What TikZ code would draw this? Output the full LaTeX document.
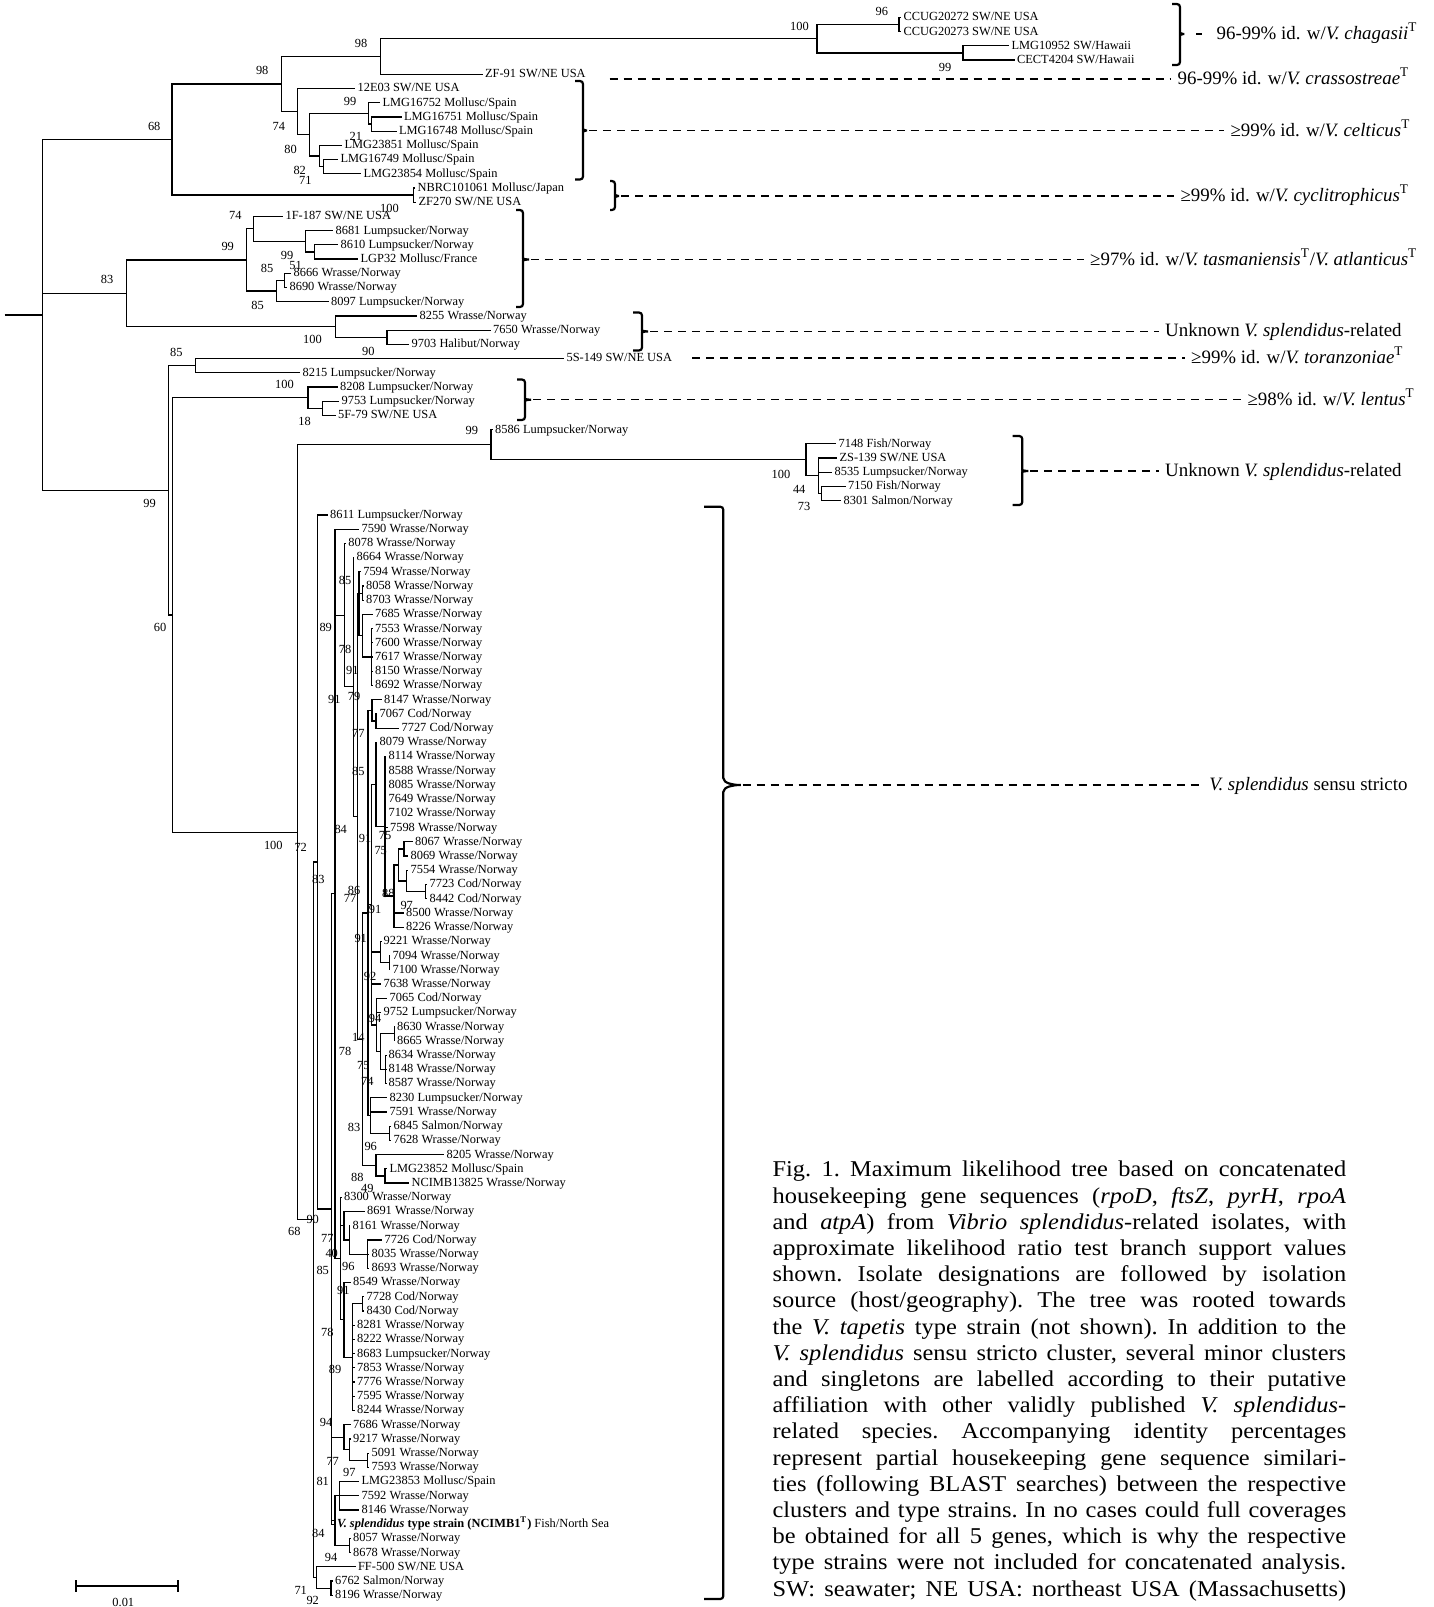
\documentclass[tikz,border=0pt]{standalone}
\usepackage{fontspec}
\setmainfont{Liberation Serif}
\newfontfamily\capfont[FakeStretch=1.08]{Liberation Serif}
\usetikzlibrary{calc}
\newcommand{\inode}[4]{\path let \p1=(#3), \p2=(#4) in coordinate (#1) at ({#2*0.5pt},{0.5*\y1+0.5*\y2});}

\begin{document}
\begin{tikzpicture}[x=0.5pt, y=-0.5pt, line width=0.6pt,
    declare function={ly(\i)=17.4+14.215*\i;},
    leaf/.style={anchor=west, inner xsep=1pt, inner ysep=0pt, text height=4.6pt, text depth=1.2pt, font=\fontsize{6.2}{7}\selectfont},
    supp/.style={inner sep=0pt, font=\fontsize{6.2}{7}\selectfont},
    clade/.style={line width=1.1pt, rounded corners=1.5pt},
    guide/.style={line width=0.6pt, dash pattern=on 4pt off 3pt},
    note/.style={anchor=west, inner xsep=3pt, inner ysep=0pt, text height=7pt, text depth=1.5pt, font=\fontsize{9.45}{11}\selectfont},
    capline/.style={anchor=base west, inner sep=0pt, font=\capfont\fontsize{11.3}{13.1}\selectfont\frenchspacing}]
  \useasboundingbox (0,0) rectangle (1434,1607);

  % isolates
  \path
    (901,{ly(0)}) node[leaf] (l0) {CCUG20272 SW/NE USA}
    (901,{ly(1)}) node[leaf] (l1) {CCUG20273 SW/NE USA}
    (1009,{ly(2)}) node[leaf] (l2) {LMG10952 SW/Hawaii}
    (1014.5,{ly(3)}) node[leaf] (l3) {CECT4204 SW/Hawaii}
    (482.5,{ly(4)}) node[leaf] (l4) {ZF-91 SW/NE USA}
    (355,{ly(5)}) node[leaf] (l5) {12E03 SW/NE USA}
    (380,{ly(6)}) node[leaf] (l6) {LMG16752 Mollusc/Spain}
    (401.5,{ly(7)}) node[leaf] (l7) {LMG16751 Mollusc/Spain}
    (396.5,{ly(8)}) node[leaf] (l8) {LMG16748 Mollusc/Spain}
    (342,{ly(9)}) node[leaf] (l9) {LMG23851 Mollusc/Spain}
    (338,{ly(10)}) node[leaf] (l10) {LMG16749 Mollusc/Spain}
    (361,{ly(11)}) node[leaf] (l11) {LMG23854 Mollusc/Spain}
    (415,{ly(12)}) node[leaf] (l12) {NBRC101061 Mollusc/Japan}
    (416,{ly(13)}) node[leaf] (l13) {ZF270 SW/NE USA}
    (283,{ly(14)}) node[leaf] (l14) {1F-187 SW/NE USA}
    (333,{ly(15)}) node[leaf] (l15) {8681 Lumpsucker/Norway}
    (338,{ly(16)}) node[leaf] (l16) {8610 Lumpsucker/Norway}
    (358,{ly(17)}) node[leaf] (l17) {LGP32 Mollusc/France}
    (291,{ly(18)}) node[leaf] (l18) {8666 Wrasse/Norway}
    (287,{ly(19)}) node[leaf] (l19) {8690 Wrasse/Norway}
    (328.5,{ly(20)}) node[leaf] (l20) {8097 Lumpsucker/Norway}
    (417,{ly(21)}) node[leaf] (l21) {8255 Wrasse/Norway}
    (490.5,{ly(22)}) node[leaf] (l22) {7650 Wrasse/Norway}
    (409,{ly(23)}) node[leaf] (l23) {9703 Halibut/Norway}
    (564,{ly(24)}) node[leaf] (l24) {5S-149 SW/NE USA}
    (300,{ly(25)}) node[leaf] (l25) {8215 Lumpsucker/Norway}
    (337.5,{ly(26)}) node[leaf] (l26) {8208 Lumpsucker/Norway}
    (339,{ly(27)}) node[leaf] (l27) {9753 Lumpsucker/Norway}
    (335.5,{ly(28)}) node[leaf] (l28) {5F-79 SW/NE USA}
    (492.5,{ly(29)}) node[leaf] (l29) {8586 Lumpsucker/Norway}
    (836,{ly(30)}) node[leaf] (l30) {7148 Fish/Norway}
    (837,{ly(31)}) node[leaf] (l31) {ZS-139 SW/NE USA}
    (832,{ly(32)}) node[leaf] (l32) {8535 Lumpsucker/Norway}
    (845.5,{ly(33)}) node[leaf] (l33) {7150 Fish/Norway}
    (841,{ly(34)}) node[leaf] (l34) {8301 Salmon/Norway}
    (327.5,{ly(35)}) node[leaf] (l35) {8611 Lumpsucker/Norway}
    (359,{ly(36)}) node[leaf] (l36) {7590 Wrasse/Norway}
    (345.8,{ly(37)}) node[leaf] (l37) {8078 Wrasse/Norway}
    (354,{ly(38)}) node[leaf] (l38) {8664 Wrasse/Norway}
    (360.7,{ly(39)}) node[leaf] (l39) {7594 Wrasse/Norway}
    (363.5,{ly(40)}) node[leaf] (l40) {8058 Wrasse/Norway}
    (363.5,{ly(41)}) node[leaf] (l41) {8703 Wrasse/Norway}
    (372.5,{ly(42)}) node[leaf] (l42) {7685 Wrasse/Norway}
    (372.5,{ly(43)}) node[leaf] (l43) {7553 Wrasse/Norway}
    (372.5,{ly(44)}) node[leaf] (l44) {7600 Wrasse/Norway}
    (372.5,{ly(45)}) node[leaf] (l45) {7617 Wrasse/Norway}
    (372.5,{ly(46)}) node[leaf] (l46) {8150 Wrasse/Norway}
    (372.5,{ly(47)}) node[leaf] (l47) {8692 Wrasse/Norway}
    (381.5,{ly(48)}) node[leaf] (l48) {8147 Wrasse/Norway}
    (377,{ly(49)}) node[leaf] (l49) {7067 Cod/Norway}
    (399,{ly(50)}) node[leaf] (l50) {7727 Cod/Norway}
    (377,{ly(51)}) node[leaf] (l51) {8079 Wrasse/Norway}
    (386,{ly(52)}) node[leaf] (l52) {8114 Wrasse/Norway}
    (386,{ly(53)}) node[leaf] (l53) {8588 Wrasse/Norway}
    (386,{ly(54)}) node[leaf] (l54) {8085 Wrasse/Norway}
    (386,{ly(55)}) node[leaf] (l55) {7649 Wrasse/Norway}
    (386,{ly(56)}) node[leaf] (l56) {7102 Wrasse/Norway}
    (387.5,{ly(57)}) node[leaf] (l57) {7598 Wrasse/Norway}
    (412.5,{ly(58)}) node[leaf] (l58) {8067 Wrasse/Norway}
    (408,{ly(59)}) node[leaf] (l59) {8069 Wrasse/Norway}
    (408,{ly(60)}) node[leaf] (l60) {7554 Wrasse/Norway}
    (427,{ly(61)}) node[leaf] (l61) {7723 Cod/Norway}
    (427,{ly(62)}) node[leaf] (l62) {8442 Cod/Norway}
    (403.5,{ly(63)}) node[leaf] (l63) {8500 Wrasse/Norway}
    (403.5,{ly(64)}) node[leaf] (l64) {8226 Wrasse/Norway}
    (381,{ly(65)}) node[leaf] (l65) {9221 Wrasse/Norway}
    (390,{ly(66)}) node[leaf] (l66) {7094 Wrasse/Norway}
    (390,{ly(67)}) node[leaf] (l67) {7100 Wrasse/Norway}
    (381,{ly(68)}) node[leaf] (l68) {7638 Wrasse/Norway}
    (387,{ly(69)}) node[leaf] (l69) {7065 Cod/Norway}
    (381,{ly(70)}) node[leaf] (l70) {9752 Lumpsucker/Norway}
    (394.5,{ly(71)}) node[leaf] (l71) {8630 Wrasse/Norway}
    (394.5,{ly(72)}) node[leaf] (l72) {8665 Wrasse/Norway}
    (386,{ly(73)}) node[leaf] (l73) {8634 Wrasse/Norway}
    (386,{ly(74)}) node[leaf] (l74) {8148 Wrasse/Norway}
    (386,{ly(75)}) node[leaf] (l75) {8587 Wrasse/Norway}
    (387,{ly(76)}) node[leaf] (l76) {8230 Lumpsucker/Norway}
    (387,{ly(77)}) node[leaf] (l77) {7591 Wrasse/Norway}
    (391,{ly(78)}) node[leaf] (l78) {6845 Salmon/Norway}
    (391,{ly(79)}) node[leaf] (l79) {7628 Wrasse/Norway}
    (444,{ly(80)}) node[leaf] (l80) {8205 Wrasse/Norway}
    (387,{ly(81)}) node[leaf] (l81) {LMG23852 Mollusc/Spain}
    (409,{ly(82)}) node[leaf] (l82) {NCIMB13825 Wrasse/Norway}
    (341.5,{ly(83)}) node[leaf] (l83) {8300 Wrasse/Norway}
    (364.5,{ly(84)}) node[leaf] (l84) {8691 Wrasse/Norway}
    (350,{ly(85)}) node[leaf] (l85) {8161 Wrasse/Norway}
    (382,{ly(86)}) node[leaf] (l86) {7726 Cod/Norway}
    (369,{ly(87)}) node[leaf] (l87) {8035 Wrasse/Norway}
    (369,{ly(88)}) node[leaf] (l88) {8693 Wrasse/Norway}
    (350.5,{ly(89)}) node[leaf] (l89) {8549 Wrasse/Norway}
    (364,{ly(90)}) node[leaf] (l90) {7728 Cod/Norway}
    (364,{ly(91)}) node[leaf] (l91) {8430 Cod/Norway}
    (354.5,{ly(92)}) node[leaf] (l92) {8281 Wrasse/Norway}
    (354.5,{ly(93)}) node[leaf] (l93) {8222 Wrasse/Norway}
    (354.5,{ly(94)}) node[leaf] (l94) {8683 Lumpsucker/Norway}
    (354.5,{ly(95)}) node[leaf] (l95) {7853 Wrasse/Norway}
    (354.5,{ly(96)}) node[leaf] (l96) {7776 Wrasse/Norway}
    (354.5,{ly(97)}) node[leaf] (l97) {7595 Wrasse/Norway}
    (354.5,{ly(98)}) node[leaf] (l98) {8244 Wrasse/Norway}
    (350.5,{ly(99)}) node[leaf] (l99) {7686 Wrasse/Norway}
    (350.5,{ly(100)}) node[leaf] (l100) {9217 Wrasse/Norway}
    (369,{ly(101)}) node[leaf] (l101) {5091 Wrasse/Norway}
    (369,{ly(102)}) node[leaf] (l102) {7593 Wrasse/Norway}
    (359,{ly(103)}) node[leaf] (l103) {LMG23853 Mollusc/Spain}
    (359,{ly(104)}) node[leaf] (l104) {7592 Wrasse/Norway}
    (359,{ly(105)}) node[leaf] (l105) {8146 Wrasse/Norway}
    (334.5,{ly(106)}) node[leaf] (l106) {{\bfseries\itshape V. splendidus} {\bfseries type strain (NCIMB1\textsuperscript{T})} Fish/North Sea}
    (350.5,{ly(107)}) node[leaf] (l107) {8057 Wrasse/Norway}
    (350.5,{ly(108)}) node[leaf] (l108) {8678 Wrasse/Norway}
    (355.5,{ly(109)}) node[leaf] (l109) {FF-500 SW/NE USA}
    (332.5,{ly(110)}) node[leaf] (l110) {6762 Salmon/Norway}
    (332.5,{ly(111)}) node[leaf] (l111) {8196 Wrasse/Norway};

  % internal nodes, x given, y midway between outer children
  \inode{n96}{899}{l0}{l1}
  \inode{n99r}{963}{l2}{l3}
  \inode{n100t}{817}{n96}{n99r}
  \inode{n98a}{380.4}{n100t}{l4}
  \inode{n21}{371.7}{l7}{l8}
  \inode{n99t}{368.5}{l6}{n21}
  \inode{n71t}{323.4}{l10}{l11}
  \inode{n82t}{319.5}{l9}{n71t}
  \inode{n80t}{309.2}{n99t}{n82t}
  \inode{n74t}{297.4}{l5}{n80t}
  \inode{n98b}{281.5}{n98a}{n74t}
  \inode{n100j}{413.2}{l12}{l13}
  \inode{n68}{172}{n98b}{n100j}
  \inode{n51}{314.7}{l16}{l17}
  \inode{n99m}{305.8}{l15}{n51}
  \inode{n74m}{253.6}{l14}{n99m}
  \inode{n85a}{284.8}{l18}{l19}
  \inode{n85b}{276.8}{n85a}{l20}
  \inode{n99n}{246.4}{n74m}{n85b}
  \inode{n90m}{387}{l22}{l23}
  \inode{n100m}{335.7}{l21}{n90m}
  \inode{n83}{126.3}{n99n}{n100m}
  \inode{n85s}{195.5}{l24}{l25}
  \inode{n18}{322.3}{l27}{l28}
  \inode{n100l}{308}{l26}{n18}
  \inode{n73}{821.8}{l33}{l34}
  \inode{n44}{818.5}{l31}{n73}
  \inode{n100r}{806}{l30}{n44}
  \inode{n99d}{491}{l29}{n100r}
  \inode{npa}{362.3}{l40}{l41}
  \inode{npoly43}{371.7}{l43}{l47}
  \inode{nc}{362.3}{l42}{npoly43}
  \inode{nd}{359}{l39}{nc}
  \inode{n77a}{376}{l49}{l50}
  \inode{n79}{372}{l48}{n77a}
  \inode{n75a}{404}{l58}{l59}
  \inode{n97}{425.5}{l61}{l62}
  \inode{n88b}{406.7}{l60}{n97}
  \inode{n75b}{398.3}{n75a}{n88b}
  \inode{n91a}{394}{n75b}{l64}
  \inode{np1}{385}{l52}{n91a}
  \inode{n85m}{376}{l51}{np1}
  \inode{n92}{389.3}{l66}{l67}
  \inode{n91b}{380.7}{l65}{n92}
  \inode{n94c}{394.3}{l71}{l72}
  \inode{np74}{385.7}{l73}{l75}
  \inode{n75c}{380.7}{n94c}{np74}
  \inode{n14}{376.7}{l69}{n75c}
  \inode{n86}{371.7}{n85m}{n14}
  \inode{n96b}{389.3}{l78}{l79}
  \inode{n83b}{370.7}{l76}{n96b}
  \inode{n77b}{368}{n79}{n83b}
  \inode{n49}{385}{l81}{l82}
  \inode{n88}{376}{l80}{n49}
  \inode{n78}{362.3}{n77b}{n88}
  \inode{n84}{357.3}{npa}{n78}
  \inode{nb}{353.3}{l38}{n84}
  \inode{na}{344.3}{l37}{nb}
  \inode{n96c}{367.3}{l86}{l88}
  \inode{n40}{349.3}{l85}{n96c}
  \inode{n77c}{344}{l84}{n40}
  \inode{n91c}{362.3}{l90}{l91}
  \inode{n89}{352.7}{n91c}{l98}
  \inode{n78c}{344}{l89}{n89}
  \inode{n85c}{340.7}{l83}{n78c}
  \inode{nq}{335}{l36}{n85c}
  \inode{n97d}{367.3}{l101}{l102}
  \inode{n77d}{349.3}{l100}{n97d}
  \inode{n94}{344}{l99}{n77d}
  \inode{n81}{339.3}{l103}{l105}
  \inode{n57}{349.3}{l107}{l108}
  \inode{n84b}{335}{n81}{n57}
  \inode{nx1}{331.7}{nq}{l106}
  \inode{n72}{317.7}{l35}{nx1}
  \inode{n92b}{331}{l110}{l111}
  \inode{n71}{316.7}{l109}{n92b}
  \inode{n90}{313.3}{n72}{n71}
  \inode{ndeep}{297.3}{n99d}{n90}
  \inode{n60}{172.7}{n100l}{ndeep}
  \inode{nbb}{168.75}{n85s}{n60}
  \inode{root}{42.4}{n68}{nbb}
  \coordinate (rootin) at (4.5,315);

  % branches
  \draw (rootin |- root) -- (root);
  \draw (root) |- (n68);
  \draw (root) |- (n83);
  \draw (root) |- (nbb);
  \draw (n68) |- (n98b);
  \draw (n68) |- (n100j);
  \draw (n100j) |- (l12.west);
  \draw (n100j) |- (l13.west);
  \draw (n98b) |- (n98a);
  \draw (n98b) |- (n74t);
  \draw (n98a) |- (n100t);
  \draw (n98a) |- (l4.west);
  \draw (n100t) |- (n96);
  \draw (n100t) |- (n99r);
  \draw (n96) |- (l0.west);
  \draw (n96) |- (l1.west);
  \draw (n99r) |- (l2.west);
  \draw (n99r) |- (l3.west);
  \draw (n74t) |- (l5.west);
  \draw (n74t) |- (n80t);
  \draw (n80t) |- (n99t);
  \draw (n80t) |- (n82t);
  \draw (n99t) |- (l6.west);
  \draw (n99t) |- (n21);
  \draw (n21) |- (l7.west);
  \draw (n21) |- (l8.west);
  \draw (n82t) |- (l9.west);
  \draw (n82t) |- (n71t);
  \draw (n71t) |- (l10.west);
  \draw (n71t) |- (l11.west);
  \draw (n83) |- (n99n);
  \draw (n83) |- (n100m);
  \draw (n99n) |- (n74m);
  \draw (n99n) |- (n85b);
  \draw (n74m) |- (l14.west);
  \draw (n74m) |- (n99m);
  \draw (n99m) |- (l15.west);
  \draw (n99m) |- (n51);
  \draw (n51) |- (l16.west);
  \draw (n51) |- (l17.west);
  \draw (n85b) |- (n85a);
  \draw (n85b) |- (l20.west);
  \draw (n85a) |- (l18.west);
  \draw (n85a) |- (l19.west);
  \draw (n100m) |- (l21.west);
  \draw (n100m) |- (n90m);
  \draw (n90m) |- (l22.west);
  \draw (n90m) |- (l23.west);
  \draw (nbb) |- (n85s);
  \draw (nbb) |- (n60);
  \draw (n85s) |- (l24.west);
  \draw (n85s) |- (l25.west);
  \draw (n60) |- (n100l);
  \draw (n60) |- (ndeep);
  \draw (n100l) |- (l26.west);
  \draw (n100l) |- (n18);
  \draw (n18) |- (l27.west);
  \draw (n18) |- (l28.west);
  \draw (ndeep) |- (n99d);
  \draw (ndeep) |- (n90);
  \draw (n99d) |- (l29.west);
  \draw (n99d) |- (n100r);
  \draw (n100r) |- (l30.west);
  \draw (n100r) |- (n44);
  \draw (n44) |- (l31.west);
  \draw (n44) |- (l32.west);
  \draw (n44) |- (n73);
  \draw (n73) |- (l33.west);
  \draw (n73) |- (l34.west);
  \draw (n90) |- (n72);
  \draw (n90) |- (n71);
  \draw (n71) |- (l109.west);
  \draw (n71) |- (n92b);
  \draw (n92b) |- (l110.west);
  \draw (n92b) |- (l111.west);
  \draw (n72) |- (l35.west);
  \draw (n72) |- (nx1);
  \draw (nx1) |- (nq);
  \draw (nx1) |- (n94);
  \draw (nx1) |- (n84b);
  \draw (nx1) |- (l106.west);
  \draw (nq) |- (l36.west);
  \draw (nq) |- (na);
  \draw (nq) |- (n85c);
  \draw (na) |- (l37.west);
  \draw (na) |- (nb);
  \draw (nb) |- (l38.west);
  \draw (nb) |- (n84);
  \draw (n84) |- (npa);
  \draw (n84) |- (nd);
  \draw (n84) |- (n78);
  \draw (npa) |- (l40.west);
  \draw (npa) |- (l41.west);
  \draw (nd) |- (l39.west);
  \draw (nd) |- (nc);
  \draw (nc) |- (l42.west);
  \draw (nc) |- (npoly43);
  \draw (npoly43) |- (l43.west);
  \draw (npoly43) |- (l44.west);
  \draw (npoly43) |- (l45.west);
  \draw (npoly43) |- (l46.west);
  \draw (npoly43) |- (l47.west);
  \draw (n78) |- (n77b);
  \draw (n78) |- (n88);
  \draw (n77b) |- (n79);
  \draw (n77b) |- (n86);
  \draw (n77b) |- (n83b);
  \draw (n79) |- (l48.west);
  \draw (n79) |- (n77a);
  \draw (n77a) |- (l49.west);
  \draw (n77a) |- (l50.west);
  \draw (n86) |- (n85m);
  \draw (n86) |- (n91b);
  \draw (n86) |- (l68.west);
  \draw (n86) |- (n14);
  \draw (n85m) |- (l51.west);
  \draw (n85m) |- (np1);
  \draw (np1) |- (l52.west);
  \draw (np1) |- (l53.west);
  \draw (np1) |- (l54.west);
  \draw (np1) |- (l55.west);
  \draw (np1) |- (l56.west);
  \draw (np1) |- (l57.west);
  \draw (np1) |- (n91a);
  \draw (n91a) |- (n75b);
  \draw (n91a) |- (l63.west);
  \draw (n91a) |- (l64.west);
  \draw (n75b) |- (n75a);
  \draw (n75b) |- (n88b);
  \draw (n75a) |- (l58.west);
  \draw (n75a) |- (l59.west);
  \draw (n88b) |- (l60.west);
  \draw (n88b) |- (n97);
  \draw (n97) |- (l61.west);
  \draw (n97) |- (l62.west);
  \draw (n91b) |- (l65.west);
  \draw (n91b) |- (n92);
  \draw (n92) |- (l66.west);
  \draw (n92) |- (l67.west);
  \draw (n14) |- (l69.west);
  \draw (n14) |- (l70.west);
  \draw (n14) |- (n75c);
  \draw (n75c) |- (n94c);
  \draw (n75c) |- (np74);
  \draw (n94c) |- (l71.west);
  \draw (n94c) |- (l72.west);
  \draw (np74) |- (l73.west);
  \draw (np74) |- (l74.west);
  \draw (np74) |- (l75.west);
  \draw (n83b) |- (l76.west);
  \draw (n83b) |- (l77.west);
  \draw (n83b) |- (n96b);
  \draw (n96b) |- (l78.west);
  \draw (n96b) |- (l79.west);
  \draw (n88) |- (l80.west);
  \draw (n88) |- (n49);
  \draw (n49) |- (l81.west);
  \draw (n49) |- (l82.west);
  \draw (n85c) |- (l83.west);
  \draw (n85c) |- (n77c);
  \draw (n85c) |- (n78c);
  \draw (n77c) |- (l84.west);
  \draw (n77c) |- (n40);
  \draw (n40) |- (l85.west);
  \draw (n40) |- (n96c);
  \draw (n96c) |- (l86.west);
  \draw (n96c) |- (l87.west);
  \draw (n96c) |- (l88.west);
  \draw (n78c) |- (l89.west);
  \draw (n78c) |- (n89);
  \draw (n89) |- (n91c);
  \draw (n89) |- (l92.west);
  \draw (n89) |- (l93.west);
  \draw (n89) |- (l94.west);
  \draw (n89) |- (l95.west);
  \draw (n89) |- (l96.west);
  \draw (n89) |- (l97.west);
  \draw (n89) |- (l98.west);
  \draw (n91c) |- (l90.west);
  \draw (n91c) |- (l91.west);
  \draw (n94) |- (l99.west);
  \draw (n94) |- (n77d);
  \draw (n77d) |- (l100.west);
  \draw (n77d) |- (n97d);
  \draw (n97d) |- (l101.west);
  \draw (n97d) |- (l102.west);
  \draw (n84b) |- (n81);
  \draw (n84b) |- (n57);
  \draw (n81) |- (l103.west);
  \draw (n81) |- (l104.west);
  \draw (n81) |- (l105.west);
  \draw (n57) |- (l107.west);
  \draw (n57) |- (l108.west);

  % support values
  \node[supp] (s1) at (881.9,11.7) {96};
  \node[supp] (s2) at (799.5,26.7) {100};
  \node[supp] (s3) at (945,67) {99};
  \node[supp] (s4) at (361,43.3) {98};
  \node[supp] (s5) at (262.2,70.7) {98};
  \node[supp] (s6) at (154.2,126.7) {68};
  \node[supp] (s7) at (278.8,126) {74};
  \node[supp] (s8) at (350,101) {99};
  \node[supp] (s9) at (355.9,136.7) {21};
  \node[supp] (s10) at (290.6,149.3) {80};
  \node[supp] (s11) at (299.7,170) {82};
  \node[supp] (s12) at (305.3,180) {71};
  \node[supp] (s13) at (389.5,208) {100};
  \node[supp] (s14) at (235.3,215) {74};
  \node[supp] (s15) at (227.7,246.7) {99};
  \node[supp] (s16) at (287,255) {99};
  \node[supp] (s17) at (267,268.3) {85};
  \node[supp] (s18) at (295.5,265) {51};
  \node[supp] (s19) at (107.1,279.3) {83};
  \node[supp] (s20) at (257.6,305) {85};
  \node[supp] (s21) at (312.5,339.3) {100};
  \node[supp] (s22) at (368.3,351) {90};
  \node[supp] (s23) at (176.3,352.7) {85};
  \node[supp] (s24) at (284.4,384.3) {100};
  \node[supp] (s25) at (304.5,421.7) {18};
  \node[supp] (s26) at (471.9,430) {99};
  \node[supp] (s27) at (149.6,503.3) {99};
  \node[supp] (s28) at (781,474) {100};
  \node[supp] (s29) at (799.2,489.3) {44};
  \node[supp] (s30) at (804,506.7) {73};
  \node[supp] (s31) at (160,627.7) {60};
  \node[supp] (s32) at (345,580) {85};
  \node[supp] (s33) at (325.7,627.7) {89};
  \node[supp] (s34) at (345,649.3) {78};
  \node[supp] (s35) at (352.3,670) {91};
  \node[supp] (s36) at (334.3,699.3) {91};
  \node[supp] (s37) at (354,696.7) {79};
  \node[supp] (s38) at (358.3,733.3) {77};
  \node[supp] (s39) at (358.3,771.7) {85};
  \node[supp] (s40) at (340.7,829.3) {84};
  \node[supp] (s41) at (365,838.3) {91};
  \node[supp] (s42) at (385,835) {75};
  \node[supp] (s43) at (380.7,850.7) {75};
  \node[supp] (s44) at (273.3,845) {100};
  \node[supp] (s45) at (300.7,847.3) {72};
  \node[supp] (s46) at (318.3,879.3) {83};
  \node[supp] (s47) at (354,890.7) {86};
  \node[supp] (s48) at (350,898.3) {77};
  \node[supp] (s49) at (388.3,893.3) {88};
  \node[supp] (s50) at (406.7,905) {97};
  \node[supp] (s51) at (375,909) {91};
  \node[supp] (s52) at (360.7,938.3) {91};
  \node[supp] (s53) at (370,976) {92};
  \node[supp] (s54) at (375,1018.3) {94};
  \node[supp] (s55) at (358.3,1037.3) {14};
  \node[supp] (s56) at (345,1051.7) {78};
  \node[supp] (s57) at (363.3,1065) {75};
  \node[supp] (s58) at (367.3,1081.7) {74};
  \node[supp] (s59) at (354,1127.7) {83};
  \node[supp] (s60) at (370.7,1146) {96};
  \node[supp] (s61) at (357.3,1177.3) {88};
  \node[supp] (s62) at (367.3,1188.3) {49};
  \node[supp] (s63) at (312.7,1219.3) {90};
  \node[supp] (s64) at (294.3,1231.7) {68};
  \node[supp] (s65) at (327.3,1238.3) {77};
  \node[supp] (s66) at (331.7,1253.3) {40};
  \node[supp] (s67) at (348.3,1266.7) {96};
  \node[supp] (s68) at (322.7,1270) {85};
  \node[supp] (s69) at (343.3,1290) {91};
  \node[supp] (s70) at (327.3,1332.7) {78};
  \node[supp] (s71) at (335,1369.3) {89};
  \node[supp] (s72) at (326,1422.7) {94};
  \node[supp] (s73) at (332.7,1461.7) {77};
  \node[supp] (s74) at (349.3,1472.7) {97};
  \node[supp] (s75) at (322.7,1481.7) {81};
  \node[supp] (s76) at (318.3,1533.3) {84};
  \node[supp] (s77) at (331,1557.3) {94};
  \node[supp] (s78) at (300.7,1590) {71};
  \node[supp] (s79) at (312.7,1600.7) {92};

  % cluster brackets
  \draw[clade] (1172,4) -- (1180,4) -- (1180,30) to[out=-90,in=180] (1186,34) coordinate (b1) to[out=180,in=90] (1180,38) -- (1180,65) -- (1172,65);
  \draw[clade] (575,81) -- (583,81) -- (583,126.5) to[out=-90,in=180] (589,130.5) coordinate (b3) to[out=180,in=90] (583,134.5) -- (583,179.5) -- (575,179.5);
  \draw[clade] (610,181) -- (615,181) -- (615,192) to[out=-90,in=180] (621,196) coordinate (b4) to[out=180,in=90] (615,200) -- (615,210) -- (610,210);
  \draw[clade] (516,210) -- (523,210) -- (523,255.5) to[out=-90,in=180] (531,259.5) coordinate (b5) to[out=180,in=90] (523,263.5) -- (523,307) -- (516,307);
  \draw[clade] (633,312.5) -- (642,312.5) -- (642,327.4) to[out=-90,in=180] (650,331.4) coordinate (b6) to[out=180,in=90] (642,335.4) -- (642,350.5) -- (633,350.5);
  \draw[clade] (517,379.5) -- (525,379.5) -- (525,395.7) to[out=-90,in=180] (533,399.7) coordinate (b8) to[out=180,in=90] (525,403.7) -- (525,420) -- (517,420);
  \draw[clade] (1012.5,436) -- (1022.3,436) -- (1022.3,467) to[out=-90,in=180] (1030,471) coordinate (b9) to[out=180,in=90] (1022.3,475) -- (1022.3,505) -- (1012.5,505);
  \draw[clade] (704,506.7) -- (723.3,506.7) -- (723.3,775) to[out=-90,in=180] (742.5,785) coordinate (b10) to[out=180,in=90] (723.3,795) -- (723.3,1599) -- (704,1599);
  \coordinate (g2) at (609.6,79);
  \coordinate (g7) at (692,358);

  % identities
  \node[note] (a1) at (1210,34) {96-99\% id. w/\textit{V. chagasii}\textsuperscript{T}};
  \node[note] (a2) at (1171,79) {96-99\% id. w/\textit{V. crassostreae}\textsuperscript{T}};
  \node[note] (a3) at (1224,130.5) {≥99\% id. w/\textit{V. celticus}\textsuperscript{T}};
  \node[note] (a4) at (1174,196) {≥99\% id. w/\textit{V. cyclitrophicus}\textsuperscript{T}};
  \node[note] (a5) at (1083.6,259.5) {≥97\% id. w/\textit{V. tasmaniensis}\textsuperscript{T}/\textit{V. atlanticus}\textsuperscript{T}};
  \node[note] (a6) at (1158.6,331.4) {Unknown \textit{V. splendidus}-related};
  \node[note] (a7) at (1184.6,358) {≥99\% id. w/\textit{V. toranzoniae}\textsuperscript{T}};
  \node[note] (a8) at (1241,399.7) {≥98\% id. w/\textit{V. lentus}\textsuperscript{T}};
  \node[note] (a9) at (1158.6,471) {Unknown \textit{V. splendidus}-related};
  \node[note] (a10) at (1202.8,785) {\textit{V. splendidus} sensu stricto};
  \draw[guide, dash pattern=on 0pt off 5pt on 3pt off 5pt] (b1) -- (a1.west);
  \draw[guide] (g2) -- (a2.west);
  \draw[guide] (b3) -- (a3.west);
  \draw[guide] (b4) -- (a4.west);
  \draw[guide] (b5) -- (a5.west);
  \draw[guide] (b6) -- (a6.west);
  \draw[guide] (g7) -- (a7.west);
  \draw[guide] (b8) -- (a8.west);
  \draw[guide] (b9) -- (a9.west);
  \draw[guide] (b10) -- (a10.west);

  % scale bar
  \draw (76,1580) -- (76,1592) (76,1586) -- (178,1586) (178,1580) -- (178,1592);
  \node[supp] (sbar) at (123.3,1602) {0.01};

  % caption
  \node[capline] (c1) at (772,1176.8) {\makebox[286.8pt][s]{Fig. 1. Maximum likelihood tree based on concatenated}};
  \node[capline] (c2) at (772,1203.0) {\makebox[286.8pt][s]{housekeeping gene sequences (\textit{rpoD}, \textit{ftsZ}, \textit{pyrH}, \textit{rpoA}}};
  \node[capline] (c3) at (772,1229.2) {\makebox[286.8pt][s]{and \textit{atpA}) from \textit{Vibrio splendidus}-related isolates, with}};
  \node[capline] (c4) at (772,1255.4) {\makebox[286.8pt][s]{approximate likelihood ratio test branch support values}};
  \node[capline] (c5) at (772,1281.6) {\makebox[286.8pt][s]{shown. Isolate designations are followed by isolation}};
  \node[capline] (c6) at (772,1307.8) {\makebox[286.8pt][s]{source (host/geography). The tree was rooted towards}};
  \node[capline] (c7) at (772,1334.0) {\makebox[286.8pt][s]{the \textit{V. tapetis} type strain (not shown). In addition to the}};
  \node[capline] (c8) at (772,1360.2) {\makebox[286.8pt][s]{\textit{V. splendidus} sensu stricto cluster, several minor clusters}};
  \node[capline] (c9) at (772,1386.4) {\makebox[286.8pt][s]{and singletons are labelled according to their putative}};
  \node[capline] (c10) at (772,1412.6) {\makebox[286.8pt][s]{affiliation with other validly published \textit{V. splendidus}-}};
  \node[capline] (c11) at (772,1438.8) {\makebox[286.8pt][s]{related species. Accompanying identity percentages}};
  \node[capline] (c12) at (772,1465.0) {\makebox[286.8pt][s]{represent partial housekeeping gene sequence similari-}};
  \node[capline] (c13) at (772,1491.2) {\makebox[286.8pt][s]{ties (following BLAST searches) between the respective}};
  \node[capline] (c14) at (772,1517.4) {\makebox[286.8pt][s]{clusters and type strains. In no cases could full coverages}};
  \node[capline] (c15) at (772,1543.6) {\makebox[286.8pt][s]{be obtained for all 5 genes, which is why the respective}};
  \node[capline] (c16) at (772,1569.8) {\makebox[286.8pt][s]{type strains were not included for concatenated analysis.}};
  \node[capline] (c17) at (772,1596.0) {\makebox[286.8pt][s]{SW: seawater; NE USA: northeast USA (Massachusetts)}};
\end{tikzpicture}
\end{document}
